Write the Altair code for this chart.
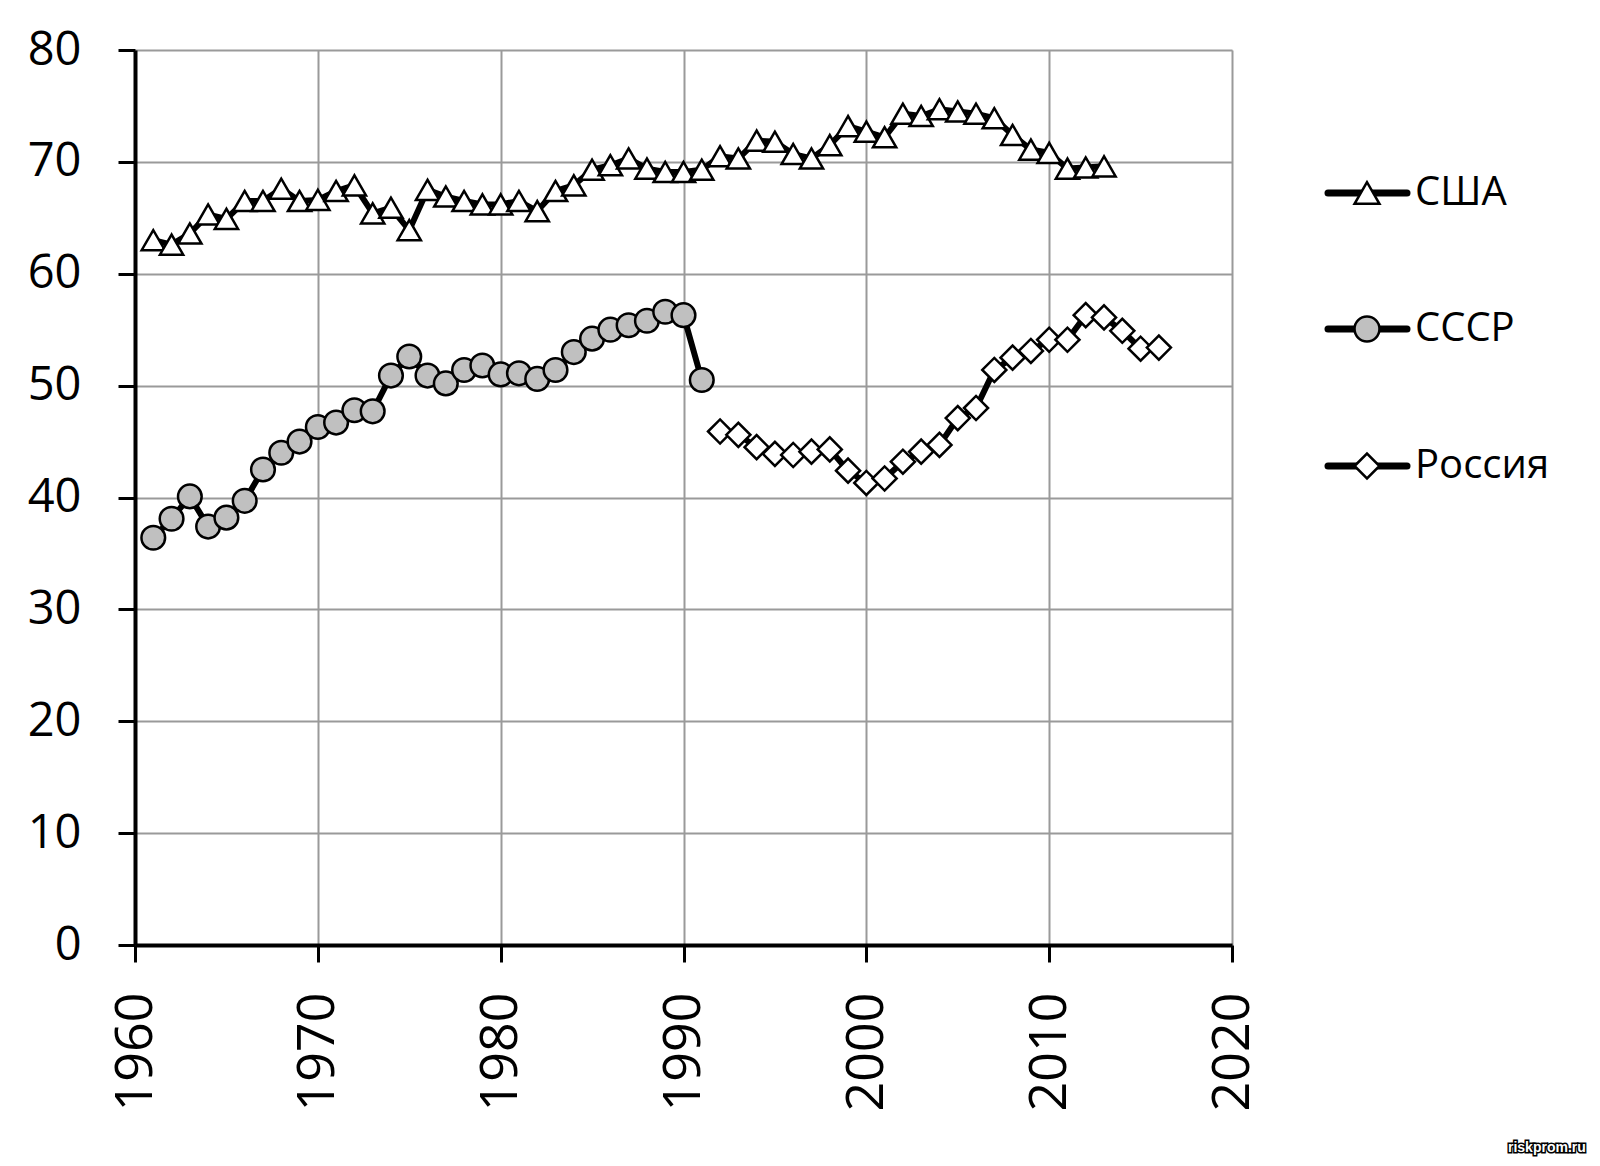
import altair as alt
import pandas as pd

# ---------------- data ----------------
series_names = ["США", "СССР", "Россия"]

usa_years = list(range(1961, 2014))
usa_values = [63.0, 62.6, 63.6, 65.3, 64.9, 66.5, 66.5, 67.6, 66.5, 66.6,
              67.4, 67.9, 65.4, 65.9, 63.9, 67.5, 66.9, 66.5, 66.2, 66.2,
              66.5, 65.6, 67.4, 67.9, 69.3, 69.7, 70.3, 69.4, 69.1, 69.1,
              69.3, 70.5, 70.3, 71.9, 71.8, 70.7, 70.3, 71.5, 73.2, 72.7,
              72.2, 74.3, 74.1, 74.7, 74.5, 74.3, 73.9, 72.4, 71.1, 70.8,
              69.4, 69.5, 69.6]

ussr_years = list(range(1961, 1992))
ussr_values = [36.4, 38.1, 40.1, 37.4, 38.2, 39.7, 42.5, 44.0, 45.0, 46.3,
               46.7, 47.8, 47.7, 50.9, 52.6, 50.9, 50.2, 51.4, 51.8, 51.0,
               51.1, 50.6, 51.4, 53.0, 54.2, 55.0, 55.4, 55.8, 56.6, 56.3,
               50.5]

russia_years = list(range(1992, 2017))
russia_values = [45.9, 45.6, 44.5, 43.9, 43.8, 44.1, 44.3, 42.4, 41.3, 41.7,
                 43.2, 44.1, 44.7, 47.1, 48.0, 51.4, 52.5, 53.1, 54.1, 54.1,
                 56.3, 56.1, 54.9, 53.3, 53.4]

x_ticks = [1960, 1970, 1980, 1990, 2000, 2010, 2020]
y_ticks = [0, 10, 20, 30, 40, 50, 60, 70, 80]

shapes = ["triangle-up", "circle", "diamond"]
fills = ["white", "#c0c0c0", "white"]
sizes = [540, 580, 620]

# ---------------- table ----------------
df = pd.concat([
    pd.DataFrame({"year": usa_years, "value": usa_values, "series": series_names[0]}),
    pd.DataFrame({"year": ussr_years, "value": ussr_values, "series": series_names[1]}),
    pd.DataFrame({"year": russia_years, "value": russia_values, "series": series_names[2]}),
], ignore_index=True)

W, H = 1097, 895
FONT = "Open Sans"

x_enc = alt.X("year:Q",
              scale=alt.Scale(domain=[1960, 2020], nice=False, zero=False),
              axis=alt.Axis(values=x_ticks, format="d", title=None,
                            labelAngle=270, labelFontSize=52, labelFont=FONT,
                            labelColor="black", labelPadding=30,
                            tickSize=17, tickWidth=3, tickColor="black",
                            domainWidth=4, domainColor="black",
                            grid=True, gridColor="#9a9a9a", gridWidth=2))
y_enc = alt.Y("value:Q",
              scale=alt.Scale(domain=[0, 80], nice=False),
              axis=alt.Axis(values=y_ticks, title=None,
                            labelFontSize=47, labelFont=FONT, labelColor="black",
                            labelPadding=37, tickSize=17, tickWidth=3,
                            tickColor="black", domainWidth=4, domainColor="black",
                            grid=True, gridColor="#9a9a9a", gridWidth=2,
                            minExtent=122, maxExtent=122))

base = alt.Chart(df)

lines = base.mark_line(color="black", strokeWidth=6).encode(
    x=x_enc, y=y_enc, detail="series:N")

points = base.mark_point(filled=True, stroke="black", strokeWidth=2.5, opacity=1).encode(
    x="year:Q", y="value:Q",
    shape=alt.Shape("series:N", scale=alt.Scale(domain=series_names, range=shapes), legend=None),
    fill=alt.Fill("series:N", scale=alt.Scale(domain=series_names, range=fills), legend=None),
    size=alt.Size("series:N", scale=alt.Scale(domain=series_names, range=sizes), legend=None),
)

# ---------------- custom legend (line through symbol) ----------------
leg_y = [143, 279, 416]
legend_layers = []
for name, shp, fl, yy in zip(series_names, shapes, fills, leg_y):
    ldf = pd.DataFrame({"series": [name]})
    lc = alt.Chart(ldf)
    legend_layers.append(lc.mark_rule(color="black", strokeWidth=7, strokeCap="round").encode(
        x=alt.value(1193), x2=alt.value(1272), y=alt.value(yy)))
    legend_layers.append(lc.mark_point(shape=shp, filled=True, fill=fl, stroke="black",
                                       strokeWidth=2.5, size=620, opacity=1).encode(
        x=alt.value(1232), y=alt.value(yy)))
    legend_layers.append(lc.mark_text(align="left", baseline="middle", fontSize=40,
                                      font=FONT, color="black").encode(
        x=alt.value(1280), y=alt.value(yy), text="series:N"))

# watermark: white bold text with a black outline
wm_df = pd.DataFrame({"t": ["riskprom.ru"]})
wm_outline = alt.Chart(wm_df).mark_text(
    align="left", baseline="middle", fontSize=14, font="Liberation Sans", fontWeight="bold",
    fill="black", stroke="black", strokeWidth=3
).encode(x=alt.value(1373), y=alt.value(1098), text="t:N")
wm_fill = alt.Chart(wm_df).mark_text(
    align="left", baseline="middle", fontSize=14, font="Liberation Sans", fontWeight="bold",
    color="white"
).encode(x=alt.value(1373), y=alt.value(1098), text="t:N")

chart = alt.layer(lines, points, *legend_layers, wm_outline, wm_fill).properties(
    width=W, height=H,
    padding={"top": 18, "left": 5, "right": 5, "bottom": 5},
).configure_view(stroke=None).configure(background="white")

chart.save("out.html", embed_options={"renderer": "svg", "actions": False})
